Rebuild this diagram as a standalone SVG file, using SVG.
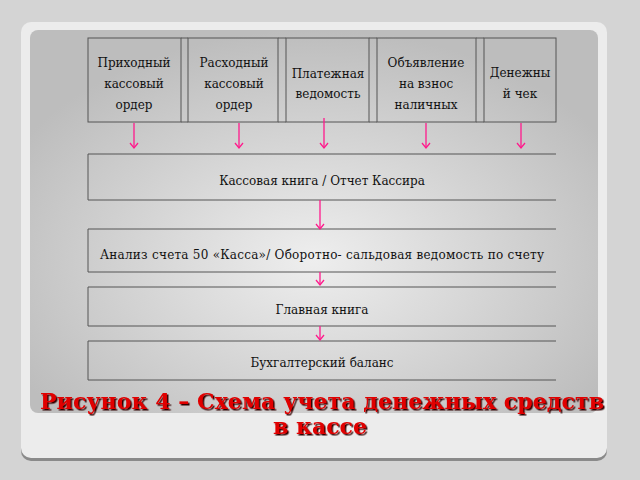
<svg xmlns="http://www.w3.org/2000/svg" width="640" height="480" viewBox="0 0 640 480">
<defs>
<radialGradient id="g" cx="0.5" cy="0.6" r="0.6"><stop offset="0" stop-color="#eeeeee"/><stop offset="1" stop-color="#bdbdbd"/></radialGradient>
<marker id="a" markerWidth="10" markerHeight="10" refX="8" refY="5" orient="auto" markerUnits="userSpaceOnUse"><path d="M3,1 L8,5 L3,9" fill="none" stroke="#ff1a8c" stroke-width="1.3"/></marker>
<filter id="s" x="-5%" y="-20%" width="110%" height="140%"><feDropShadow dx="1.5" dy="1.5" stdDeviation="0.3" flood-color="#300000"/></filter>
</defs>
<style>
.b{fill:none;stroke:#555;stroke-width:1}
.t{font-family:'DejaVu Serif',serif;font-size:12px;fill:#111;text-anchor:middle}
.c{stroke:#ff1a8c;stroke-width:1.3;fill:none;marker-end:url(#a)}
.h{font-family:'DejaVu Serif',serif;font-size:22px;font-weight:bold;fill:#e00000;text-anchor:middle;filter:url(#s)}
</style>
<rect width="640" height="480" fill="#d4d4d4"/>
<rect x="21" y="25" width="586" height="436" rx="10" fill="#8a8a8a"/>
<rect x="21" y="22" width="586" height="436" rx="10" fill="#ececec"/>
<rect x="30" y="30" width="568" height="383" rx="8" fill="url(#g)"/>
<g id="n1"><rect class="b" x="88" y="38" width="93" height="84"/><text class="t" x="134" y="67">Приходный</text><text class="t" x="134" y="88">кассовый</text><text class="t" x="134" y="109">ордер</text></g>
<g id="n2"><rect class="b" x="188" y="38" width="90" height="84"/><line class="b" x1="181" y1="38" x2="188" y2="38"/><line class="b" x1="181" y1="122" x2="188" y2="122"/><text class="t" x="234" y="67">Расходный</text><text class="t" x="234" y="88">кассовый</text><text class="t" x="234" y="109">ордер</text></g>
<g id="n3"><rect class="b" x="286" y="38" width="83" height="84"/><line class="b" x1="278" y1="38" x2="286" y2="38"/><line class="b" x1="278" y1="122" x2="286" y2="122"/><text class="t" x="328" y="78">Платежная</text><text class="t" x="328" y="98">ведомость</text></g>
<g id="n4"><rect class="b" x="377" y="38" width="99" height="84"/><line class="b" x1="369" y1="38" x2="377" y2="38"/><line class="b" x1="369" y1="122" x2="377" y2="122"/><text class="t" x="426" y="67">Объявление</text><text class="t" x="426" y="88">на взнос</text><text class="t" x="426" y="109">наличных</text></g>
<g id="n5"><rect class="b" x="484" y="38" width="72" height="84"/><line class="b" x1="476" y1="38" x2="484" y2="38"/><line class="b" x1="476" y1="122" x2="484" y2="122"/><text class="t" x="520" y="77">Денежны</text><text class="t" x="520" y="98">й чек</text></g>
<g id="n6"><path class="b" d="M556,154 H88 V200 H556"/><text class="t" x="322" y="185">Кассовая книга / Отчет Кассира</text></g>
<g id="n7"><path class="b" d="M556,229 H88 V272 H556"/><text class="t" x="322" y="259" textLength="444">Анализ счета 50 «Касса»/ Оборотно- сальдовая ведомость по счету</text></g>
<g id="n8"><path class="b" d="M556,287 H88 V326 H556"/><text class="t" x="322" y="314">Главная книга</text></g>
<g id="n9"><path class="b" d="M556,341 H88 V380 H556"/><text class="t" x="322" y="367">Бухгалтерский баланс</text></g>
<g id="connectors">
<line class="c" x1="134" y1="123" x2="134" y2="148"/>
<line class="c" x1="239" y1="123" x2="239" y2="148"/>
<line class="c" x1="324" y1="118" x2="324" y2="148"/>
<line class="c" x1="426" y1="123" x2="426" y2="148"/>
<line class="c" x1="521" y1="123" x2="521" y2="148"/>
<line class="c" x1="320" y1="200" x2="320" y2="229"/>
<line class="c" x1="320" y1="272" x2="320" y2="285"/>
<line class="c" x1="320" y1="326" x2="320" y2="340"/>
</g>
<g id="title">
<text class="h" x="322" y="409" textLength="564">Рисунок 4 – Схема учета денежных средств</text>
<text class="h" x="320" y="434">в кассе</text>
</g>
</svg>
